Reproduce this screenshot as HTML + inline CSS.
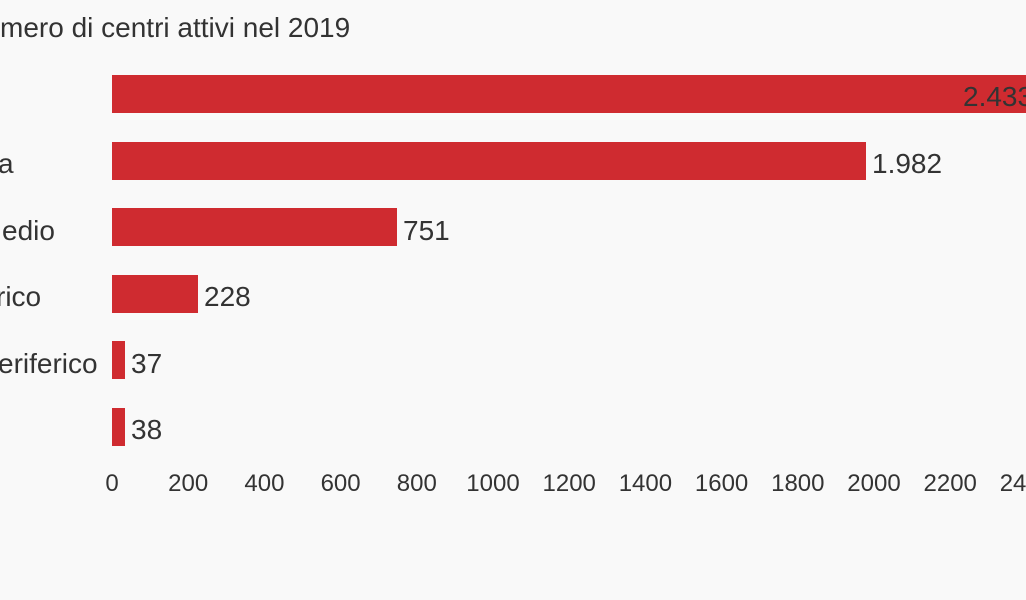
<!DOCTYPE html>
<html><head><meta charset="utf-8"><style>
html,body{margin:0;padding:0;background:#f9f9f9;}
svg{display:block;font-family:"Liberation Sans",sans-serif;}
</style></head><body>
<svg width="1026" height="600" viewBox="0 0 1026 600">
<rect width="1026" height="600" fill="#f9f9f9"/>
<text x="0" y="37" font-size="28" fill="#333">mero di centri attivi nel 2019</text>
<g fill="#cf2b30">
<rect x="112" y="75" width="930" height="38"/>
<rect x="112" y="142" width="754" height="38"/>
<rect x="112" y="208" width="285" height="38"/>
<rect x="112" y="275" width="86" height="38"/>
<rect x="112" y="341" width="13" height="38"/>
<rect x="112" y="408" width="13" height="38"/>
</g>
<g font-size="28" fill="#333">
<text x="963" y="106">2.433</text>
<text x="872" y="173">1.982</text>
<text x="403" y="240">751</text>
<text x="204" y="306">228</text>
<text x="131" y="373">37</text>
<text x="131" y="439">38</text>
<text x="-2" y="173">a</text>
<text x="2" y="240">edio</text>
<text x="-4" y="306">rico</text>
<text x="-2" y="373">eriferico</text>
</g>
<g font-size="24" fill="#333" text-anchor="middle">
<text x="112" y="491">0</text>
<text x="188.2" y="491">200</text>
<text x="264.4" y="491">400</text>
<text x="340.6" y="491">600</text>
<text x="416.8" y="491">800</text>
<text x="493" y="491">1000</text>
<text x="569.2" y="491">1200</text>
<text x="645.4" y="491">1400</text>
<text x="721.6" y="491">1600</text>
<text x="797.8" y="491">1800</text>
<text x="874" y="491">2000</text>
<text x="950.2" y="491">2200</text>
<text x="1026.4" y="491">2400</text>
</g>
</svg>
</body></html>
